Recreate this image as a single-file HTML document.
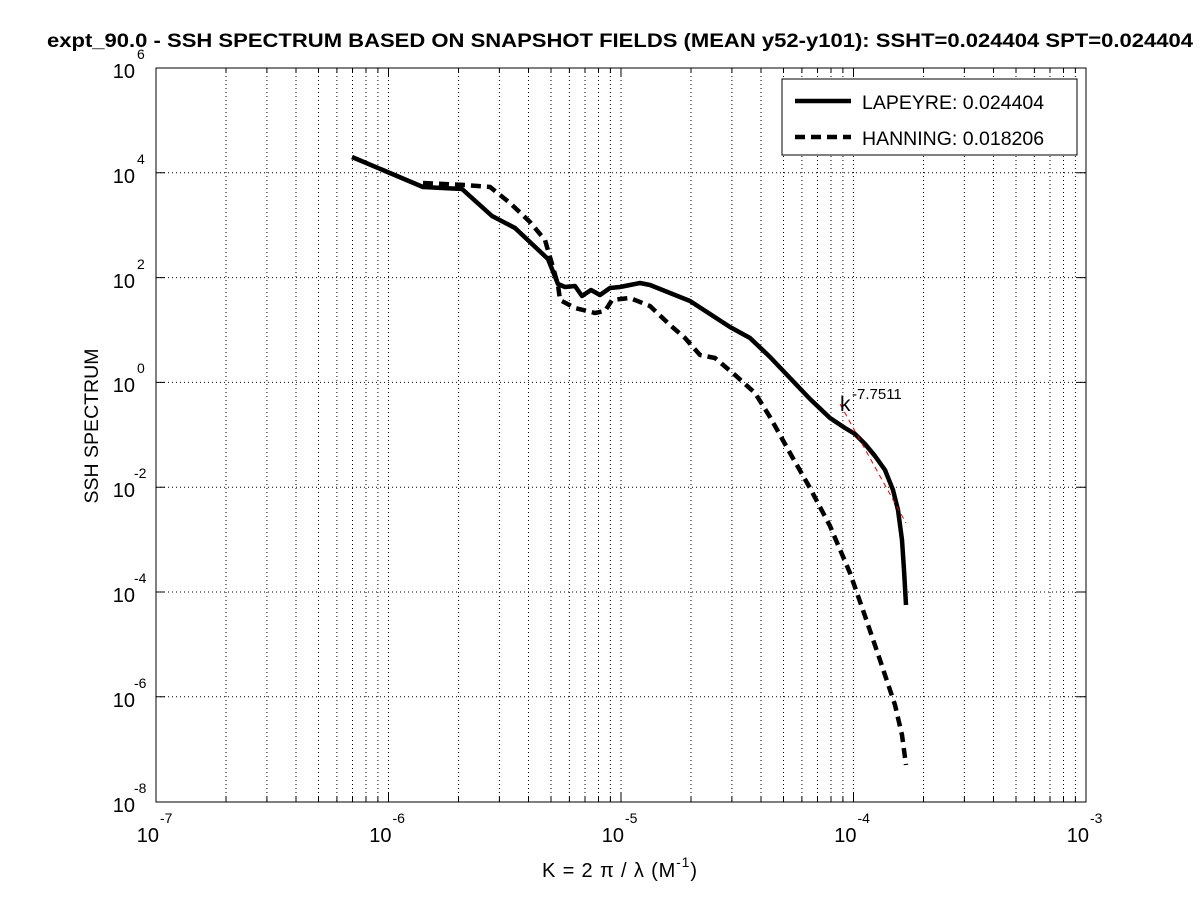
<!DOCTYPE html>
<html><head><meta charset="utf-8"><style>
body{margin:0;background:#fff;}
svg{display:block;font-family:"Liberation Sans",sans-serif;}
</style></head><body>
<svg width="1200" height="901" xmlns="http://www.w3.org/2000/svg">
<rect width="1200" height="901" fill="#fff"/>
<g stroke="#000" stroke-width="1" stroke-dasharray="1,3" fill="none">
<path d="M226,68V802M266.9,68V802M296,68V802M318.5,68V802M336.9,68V802M352.5,68V802M366,68V802M377.9,68V802M388.5,68V802
M458.5,68V802M499.4,68V802M528.5,68V802M551,68V802M569.4,68V802M585,68V802M598.5,68V802M610.4,68V802M621,68V802
M691,68V802M731.9,68V802M761,68V802M783.5,68V802M801.9,68V802M817.5,68V802M831,68V802M842.9,68V802M853.5,68V802
M923.5,68V802M964.4,68V802M993.5,68V802M1016,68V802M1034.4,68V802M1050,68V802M1063.5,68V802M1075.4,68V802
M156,172.8H1086M156,277.6H1086M156,382.4H1086M156,487.2H1086M156,592H1086M156,696.8H1086"/>
</g>
<g stroke="#000" stroke-width="1" fill="none">
<rect x="156" y="68" width="930" height="734"/>
<path d="M226,802v-5M266.9,802v-5M296,802v-5M318.5,802v-5M336.9,802v-5M352.5,802v-5M366,802v-5M377.9,802v-5M388.5,802v-9
M458.5,802v-5M499.4,802v-5M528.5,802v-5M551,802v-5M569.4,802v-5M585,802v-5M598.5,802v-5M610.4,802v-5M621,802v-9
M691,802v-5M731.9,802v-5M761,802v-5M783.5,802v-5M801.9,802v-5M817.5,802v-5M831,802v-5M842.9,802v-5M853.5,802v-9
M923.5,802v-5M964.4,802v-5M993.5,802v-5M1016,802v-5M1034.4,802v-5M1050,802v-5M1063.5,802v-5M1075.4,802v-5
M226,68v5M266.9,68v5M296,68v5M318.5,68v5M336.9,68v5M352.5,68v5M366,68v5M377.9,68v5M388.5,68v9
M458.5,68v5M499.4,68v5M528.5,68v5M551,68v5M569.4,68v5M585,68v5M598.5,68v5M610.4,68v5M621,68v9
M691,68v5M731.9,68v5M761,68v5M783.5,68v5M801.9,68v5M817.5,68v5M831,68v5M842.9,68v5M853.5,68v9
M923.5,68v5M964.4,68v5M993.5,68v5M1016,68v5M1034.4,68v5M1050,68v5M1063.5,68v5M1075.4,68v5
M156,172.8h9M156,277.6h9M156,382.4h9M156,487.2h9M156,592h9M156,696.8h9
M1086,172.8h-9M1086,277.6h-9M1086,382.4h-9M1086,487.2h-9M1086,592h-9M1086,696.8h-9"/>
</g>
<!-- series -->
<polyline fill="none" stroke="#000" stroke-width="4.5" stroke-linejoin="round" points="352,157 423,187 462,189 492,216 515,228 548,259 558,284 565,287 575,286 582,296 591,290 600,295 610,288 620,287 630,285 640,283 650,285 670,293 690,301 710,314 730,327 750,338 770,357 790,378 810,399 830,418 845,428 855,434 865,444 875,456 885,470 893,490 898,510 902,540 904,570 906,605"/>
<polyline fill="none" stroke="#000" stroke-width="4.5" stroke-dasharray="10,6" points="423,183 465,185 490,187 510,203 530,222 545,240 552,264 558,285 560,300 575,308 595,313 605,311 612,300 630,298 650,306 670,325 685,338 700,355 715,358 735,375 755,393 770,417 790,453 810,488 830,526 850,573 865,616 880,660 895,705 902,735 906,765"/>
<line x1="840" y1="404" x2="906" y2="523" stroke="#e00" stroke-width="1" stroke-dasharray="5,4"/>
<text x="840" y="411" font-size="21">k</text>
<text x="852" y="399" font-size="15">-7.7511</text>
<!-- legend -->
<rect x="782" y="79" width="295" height="76" fill="#fff" stroke="#000"/>
<line x1="795" y1="101" x2="851" y2="101" stroke="#000" stroke-width="4.5"/>
<line x1="795" y1="137" x2="851" y2="137" stroke="#000" stroke-width="4.5" stroke-dasharray="10,6"/>
<text x="862" y="109" font-size="19.5">LAPEYRE: 0.024404</text>
<text x="862" y="145" font-size="19.5">HANNING: 0.018206</text>
<!-- x tick labels -->
<g font-size="20" text-anchor="end">
<text x="159" y="842">10</text><text x="391.5" y="842">10</text><text x="624" y="842">10</text><text x="856.5" y="842">10</text><text x="1089" y="842">10</text>
</g>
<g font-size="14">
<text x="160" y="823">-7</text><text x="392.5" y="823">-6</text><text x="625" y="823">-5</text><text x="857.5" y="823">-4</text><text x="1090" y="823">-3</text>
</g>
<!-- y tick labels -->
<g font-size="20" text-anchor="end">
<text x="135" y="78">10</text><text x="135" y="183">10</text><text x="135" y="288">10</text><text x="135" y="392">10</text><text x="135" y="497">10</text><text x="135" y="602">10</text><text x="135" y="707">10</text><text x="135" y="812">10</text>
</g>
<g font-size="14">
<text x="137" y="59">6</text><text x="137" y="164">4</text><text x="137" y="269">2</text><text x="137" y="373">0</text><text x="134" y="478">-2</text><text x="134" y="583">-4</text><text x="134" y="688">-6</text><text x="134" y="793">-8</text>
</g>
<text x="98" y="426" font-size="19.5" text-anchor="middle" transform="rotate(-90 98 426)">SSH SPECTRUM</text>
<text x="542" y="877" font-size="20" textLength="155" lengthAdjust="spacing">K = 2 π / λ  (M<tspan font-size="14" dy="-10">-1</tspan><tspan dy="10">)</tspan></text>
<text x="47" y="47" font-size="19" font-weight="bold" textLength="1146" lengthAdjust="spacingAndGlyphs">expt_90.0 - SSH SPECTRUM BASED ON SNAPSHOT FIELDS (MEAN y52-y101): SSHT=0.024404 SPT=0.024404</text>
</svg>
</body></html>
